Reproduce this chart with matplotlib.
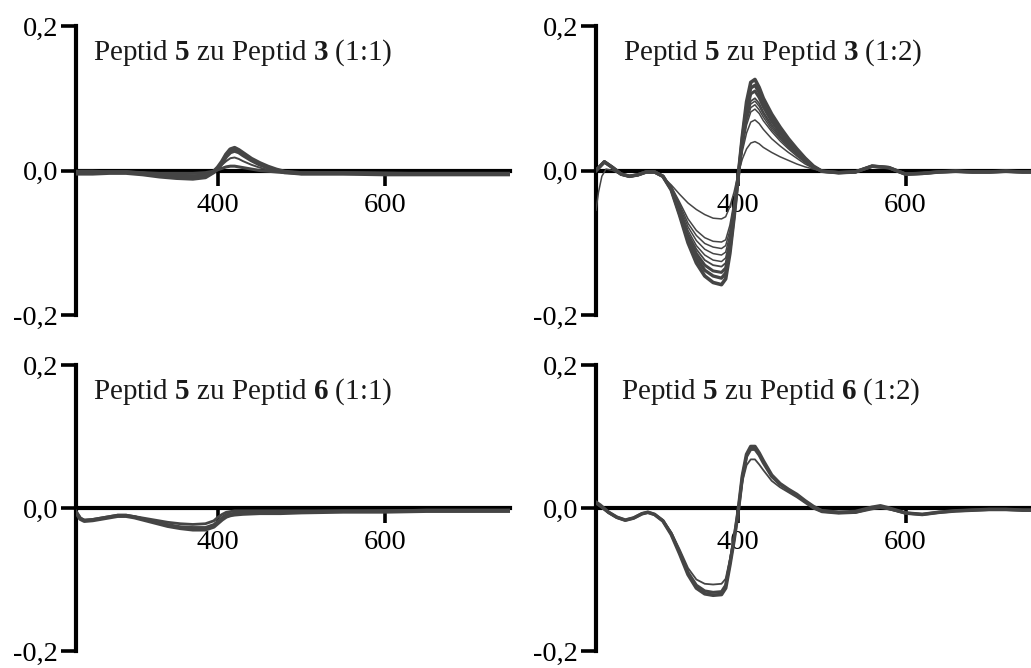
import matplotlib
matplotlib.use("Agg")
import matplotlib.pyplot as plt
from matplotlib.ticker import FixedLocator, FixedFormatter

plt.rcParams['font.family'] = ['Liberation Serif', 'DejaVu Serif']
plt.rcParams['mathtext.fontset'] = 'custom'
plt.rcParams['mathtext.rm'] = 'Liberation Serif'
plt.rcParams['mathtext.bf'] = 'Liberation Serif:bold'

# ---------------- data (wavelength in nm, CD signal) ----------------
titles = [r"Peptid $\mathbf{5}$ zu Peptid $\mathbf{3}$ (1:1)",
          r"Peptid $\mathbf{5}$ zu Peptid $\mathbf{3}$ (1:2)",
          r"Peptid $\mathbf{5}$ zu Peptid $\mathbf{6}$ (1:1)",
          r"Peptid $\mathbf{5}$ zu Peptid $\mathbf{6}$ (1:2)"]
x_ticks = [400, 600]
x_ticklabels = ["400", "600"]
y_ticks = [-0.2, 0.0, 0.2]
y_ticklabels = ["-0,2", "0,0", "0,2"]

# Panel 1: Peptid 5 zu Peptid 3 (1:1)
wl_p1 = [230, 250, 270, 290, 310, 330, 350, 370, 385, 395, 400, 405, 410, 415, 420,
         425, 430, 440, 450, 460, 470, 480, 500, 550, 600, 650, 700, 750]
p1_a = [-0.004, -0.004, -0.003, -0.003, -0.005, -0.008, -0.010, -0.011, -0.009, -0.002, 0.004,
        0.012, 0.022, 0.029, 0.031, 0.028, 0.024, 0.016, 0.010, 0.005, 0.001, -0.002, -0.004,
        -0.004, -0.005, -0.005, -0.005, -0.005]
p1_b = [-0.003, -0.003, -0.002, -0.002, -0.004, -0.006, -0.007, -0.008, -0.007, -0.002, 0.003,
        0.010, 0.019, 0.025, 0.027, 0.025, 0.021, 0.014, 0.008, 0.004, 0.000, -0.002, -0.004,
        -0.004, -0.004, -0.005, -0.005, -0.005]
p1_c = [-0.002, -0.002, -0.002, -0.002, -0.003, -0.005, -0.006, -0.007, -0.005, -0.001, 0.003,
        0.008, 0.013, 0.017, 0.018, 0.016, 0.013, 0.008, 0.004, 0.001, -0.001, -0.003, -0.004,
        -0.004, -0.004, -0.004, -0.004, -0.004]
p1_d = [-0.001, -0.001, -0.002, -0.002, -0.003, -0.004, -0.004, -0.004, -0.003, -0.001, 0.001,
        0.003, 0.005, 0.006, 0.006, 0.005, 0.004, 0.002, 0.000, -0.001, -0.002, -0.003, -0.003,
        -0.003, -0.004, -0.004, -0.004, -0.004]

# Panel 2: Peptid 5 zu Peptid 3 (1:2)
wl_p2_head = [230, 240, 250, 260, 270, 280, 290, 300, 310]
p2_head = [0.000, 0.012, 0.004, -0.005, -0.008, -0.006, -0.002, -0.002, -0.008]
wl_p2_head_weak = [230, 233, 237, 242, 250, 260, 270, 280, 290, 300, 310]
p2_head_weak = [-0.055, -0.030, -0.008, 0.002, 0.000, -0.006, -0.009, -0.007, -0.003, -0.003, -0.009]
wl_p2_mid = [320, 330, 340, 350, 360, 370, 380, 385, 390, 395, 400, 405, 410, 415, 420,
             425, 430, 440, 450, 460, 470, 480, 490, 500]
p2_a = [-0.027, -0.062, -0.100, -0.128, -0.146, -0.155, -0.158, -0.150, -0.115, -0.065, -0.008,
        0.048, 0.095, 0.122, 0.126, 0.115, 0.100, 0.078, 0.060, 0.044, 0.030, 0.017, 0.006, -0.001]
p2_b = [-0.026, -0.060, -0.096, -0.121, -0.138, -0.146, -0.149, -0.142, -0.110, -0.062, -0.008,
        0.045, 0.088, 0.114, 0.118, 0.108, 0.094, 0.073, 0.056, 0.041, 0.028, 0.016, 0.005, -0.001]
p2_c = [-0.026, -0.058, -0.092, -0.115, -0.131, -0.139, -0.141, -0.135, -0.105, -0.060, -0.008,
        0.042, 0.082, 0.106, 0.110, 0.101, 0.088, 0.068, 0.052, 0.038, 0.026, 0.015, 0.005, -0.001]
p2_d = [-0.025, -0.055, -0.087, -0.109, -0.124, -0.131, -0.133, -0.128, -0.100, -0.057, -0.008,
        0.038, 0.075, 0.096, 0.100, 0.093, 0.081, 0.063, 0.048, 0.035, 0.024, 0.014, 0.004, -0.001]
p2_e = [-0.025, -0.053, -0.083, -0.104, -0.117, -0.124, -0.126, -0.121, -0.095, -0.054, -0.007,
        0.036, 0.072, 0.092, 0.096, 0.089, 0.078, 0.060, 0.046, 0.034, 0.023, 0.013, 0.004, -0.001]
p2_f = [-0.024, -0.050, -0.078, -0.097, -0.109, -0.115, -0.117, -0.113, -0.089, -0.051, -0.007,
        0.034, 0.068, 0.087, 0.091, 0.084, 0.074, 0.057, 0.044, 0.032, 0.022, 0.012, 0.004, -0.001]
p2_g = [-0.023, -0.047, -0.073, -0.090, -0.101, -0.106, -0.108, -0.104, -0.083, -0.047, -0.006,
        0.032, 0.063, 0.081, 0.085, 0.079, 0.069, 0.054, 0.041, 0.030, 0.020, 0.011, 0.003, -0.001]
p2_h = [-0.022, -0.044, -0.067, -0.083, -0.093, -0.098, -0.099, -0.096, -0.076, -0.044, -0.006,
        0.027, 0.052, 0.067, 0.070, 0.065, 0.057, 0.044, 0.034, 0.025, 0.017, 0.009, 0.003, -0.001]
p2_i = [-0.020, -0.033, -0.045, -0.054, -0.061, -0.066, -0.067, -0.064, -0.050, -0.030, -0.004,
        0.016, 0.030, 0.038, 0.040, 0.037, 0.032, 0.025, 0.019, 0.014, 0.009, 0.005, 0.002, -0.001]
wl_p2_tail = [520, 540, 560, 580, 600, 620, 640, 660, 680, 700, 720, 740, 750]
p2_tail = [-0.003, -0.002, 0.006, 0.004, -0.005, -0.004, -0.002, -0.001, -0.002, -0.002,
           -0.001, -0.002, -0.002]

# Panel 3: Peptid 5 zu Peptid 6 (1:1)
wl_p3 = [230, 235, 240, 250, 265, 280, 290, 300, 320, 340, 355, 370, 385, 395, 400, 405,
         410, 415, 420, 430, 450, 475, 500, 550, 600, 650, 700, 750]
p3_a = [-0.006, -0.015, -0.018, -0.017, -0.014, -0.011, -0.011, -0.013, -0.019, -0.025, -0.028,
        -0.030, -0.030, -0.026, -0.021, -0.016, -0.012, -0.010, -0.009, -0.008, -0.007, -0.007,
        -0.006, -0.005, -0.005, -0.004, -0.004, -0.004]
p3_b = [-0.006, -0.015, -0.018, -0.017, -0.014, -0.011, -0.011, -0.012, -0.018, -0.023, -0.026,
        -0.027, -0.027, -0.023, -0.018, -0.013, -0.009, -0.008, -0.007, -0.006, -0.006, -0.006,
        -0.005, -0.005, -0.004, -0.004, -0.004, -0.003]
p3_c = [-0.005, -0.014, -0.017, -0.016, -0.013, -0.010, -0.010, -0.012, -0.016, -0.020, -0.022,
        -0.023, -0.022, -0.018, -0.013, -0.009, -0.006, -0.005, -0.004, -0.004, -0.004, -0.004,
        -0.004, -0.004, -0.004, -0.003, -0.003, -0.003]

# Panel 4: Peptid 5 zu Peptid 6 (1:2)
wl_p4 = [230, 235, 245, 255, 265, 275, 285, 292, 300, 310, 320, 330, 340, 350, 360, 370, 380,
         385, 390, 395, 400, 405, 410, 415, 420, 425, 430, 440, 450, 460, 470, 480, 490, 500,
         520, 540, 560, 570, 580, 600, 620, 640, 660, 680, 700, 720, 740, 750]
p4_a = [0.008, 0.004, -0.006, -0.013, -0.017, -0.014, -0.008, -0.006, -0.009, -0.018, -0.037,
        -0.064, -0.093, -0.112, -0.120, -0.122, -0.121, -0.112, -0.080, -0.045, -0.004, 0.045,
        0.075, 0.086, 0.086, 0.077, 0.066, 0.046, 0.034, 0.026, 0.019, 0.010, 0.002, -0.004,
        -0.006, -0.005, 0.001, 0.003, 0.000, -0.007, -0.009, -0.006, -0.004, -0.003, -0.002,
        -0.002, -0.003, -0.003]
p4_b = [0.007, 0.003, -0.006, -0.013, -0.017, -0.014, -0.008, -0.006, -0.009, -0.018, -0.036,
        -0.062, -0.090, -0.108, -0.116, -0.118, -0.117, -0.108, -0.077, -0.043, -0.004, 0.043,
        0.072, 0.082, 0.082, 0.074, 0.063, 0.044, 0.033, 0.025, 0.018, 0.009, 0.001, -0.004,
        -0.006, -0.006, 0.000, 0.002, -0.001, -0.007, -0.009, -0.006, -0.004, -0.003, -0.002,
        -0.002, -0.003, -0.003]
p4_c = [0.006, 0.002, -0.007, -0.014, -0.017, -0.014, -0.008, -0.006, -0.009, -0.017, -0.034,
        -0.058, -0.084, -0.100, -0.106, -0.107, -0.106, -0.099, -0.072, -0.040, -0.004, 0.037,
        0.060, 0.068, 0.068, 0.061, 0.053, 0.038, 0.029, 0.022, 0.015, 0.007, -0.001, -0.006,
        -0.008, -0.007, -0.002, 0.000, -0.002, -0.007, -0.009, -0.006, -0.004, -0.003, -0.002,
        -0.002, -0.003, -0.003]

# ---------------- figure ----------------
W, H = 1031, 668
fig = plt.figure(figsize=(W / 100, H / 100), dpi=100)

def px_axes(x0, x1, ytop, ybot):
    return fig.add_axes([x0 / W, (H - ybot) / H, (x1 - x0) / W, (ybot - ytop) / H])

axes = [px_axes(76, 510, 26, 315), px_axes(596, 1031, 26, 315),
        px_axes(76, 510, 365, 651), px_axes(596, 1031, 365, 651)]

col = '#454545'

panel_curves = [
    [(wl_p1, p1_a, 3.2), (wl_p1, p1_b, 2.6), (wl_p1, p1_c, 1.4), (wl_p1, p1_d, 2.2)],
    [(wl_p2_head_weak + wl_p2_mid + wl_p2_tail, p2_head_weak + p2_i + p2_tail, 1.1)]
    + [(wl_p2_head + wl_p2_mid + wl_p2_tail, p2_head + c + p2_tail, lw)
       for c, lw in [(p2_h, 1.1), (p2_g, 1.1), (p2_f, 1.1), (p2_e, 1.1),
                     (p2_d, 1.3), (p2_c, 2.2), (p2_b, 2.4), (p2_a, 2.6)]],
    [(wl_p3, p3_a, 3.0), (wl_p3, p3_b, 1.8), (wl_p3, p3_c, 2.0)],
    [(wl_p4, p4_a, 2.6), (wl_p4, p4_b, 2.2), (wl_p4, p4_c, 1.3)],
]
title_x = [250, 262, 250, 260]

for ax, curves, title, tx in zip(axes, panel_curves, titles, title_x):
    for wl, vals, lw in curves:
        ax.plot(wl, vals, color=col, lw=lw, zorder=3, solid_joinstyle='round')
    ax.set_xlim(230, 750)
    ax.set_ylim(-0.2, 0.2)
    ax.spines['top'].set_visible(False)
    ax.spines['right'].set_visible(False)
    ax.spines['bottom'].set_position(('data', 0))
    for s in ('left', 'bottom'):
        ax.spines[s].set_linewidth(3.0)
        ax.spines[s].set_color('black')
    ax.xaxis.set_major_locator(FixedLocator(x_ticks))
    ax.xaxis.set_major_formatter(FixedFormatter(x_ticklabels))
    ax.yaxis.set_major_locator(FixedLocator(y_ticks))
    ax.yaxis.set_major_formatter(FixedFormatter(y_ticklabels))
    ax.tick_params(axis='x', direction='out', length=11, width=2.6, pad=5,
                   labelsize=20.5, colors='black')
    ax.tick_params(axis='y', direction='out', length=11, width=2.6, pad=2,
                   labelsize=20.5, colors='black')
    ax.patch.set_alpha(0)
    ax.text(tx, 0.163, title, fontsize=21, ha='left', va='center', color='#1a1a1a')

fig.savefig('out.png', dpi=100)
